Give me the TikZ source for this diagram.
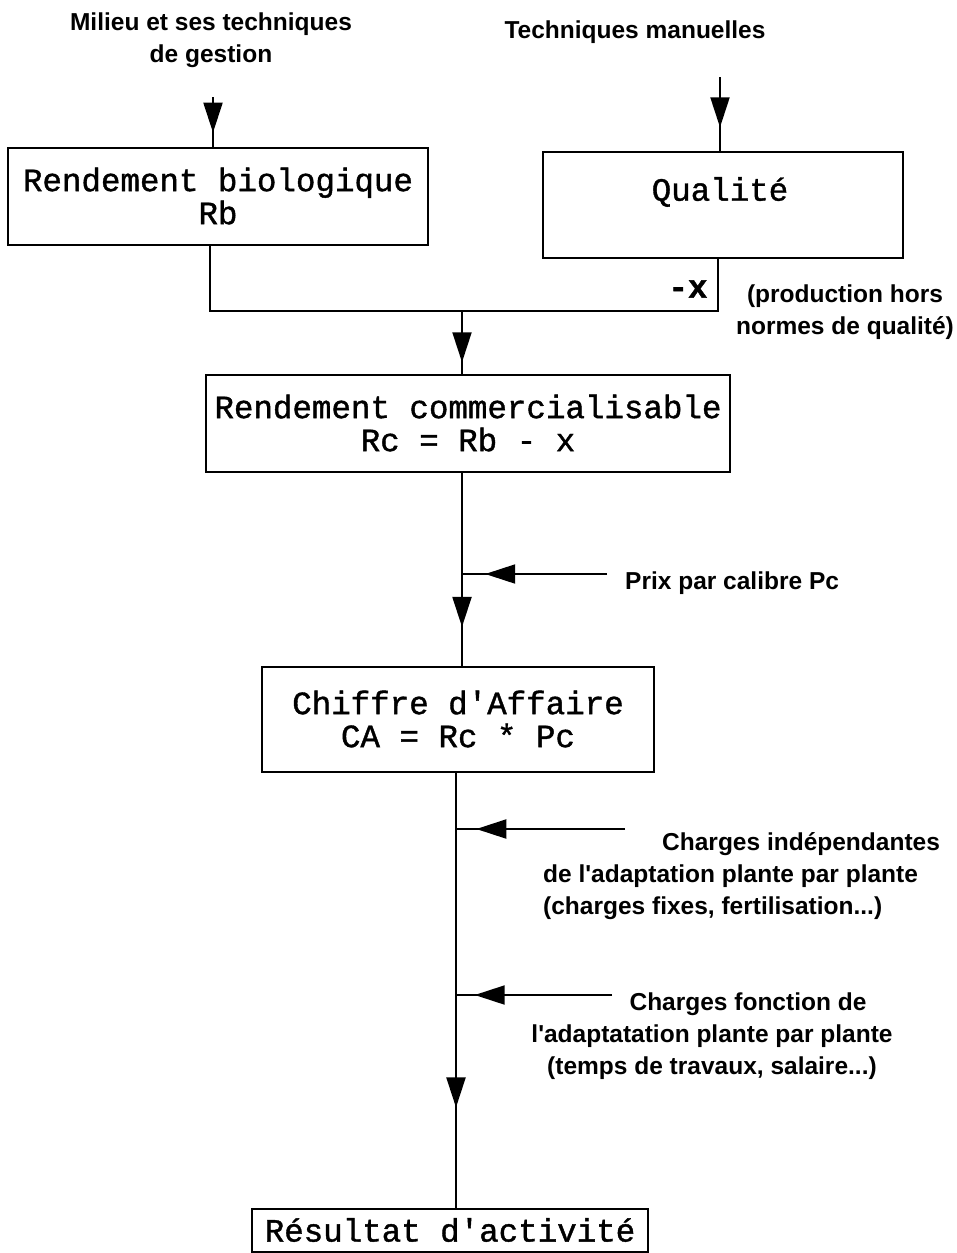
\documentclass[tikz,border=0pt]{standalone}
\usepackage{fontspec}
\setmonofont[FakeBold=1.2]{Liberation Mono}
\newfontfamily\lblfont{Liberation Sans}
\usetikzlibrary{arrows.meta,decorations.markings}

\begin{document}
\begin{tikzpicture}[x=1pt,y=-1pt,
        box/.style={draw, line width=2pt, align=center, inner sep=0pt,
                    font=\ttfamily\fontsize{32.5}{33}\selectfont},
        boxtext/.style={font=\ttfamily\fontsize{32.5}{33}\selectfont},
        lbl/.style={inner sep=0pt, font=\lblfont\bfseries\fontsize{24.5}{32}\selectfont},
        flow/.style={line width=2pt},
        midtip/.style={postaction={decorate}, decoration={markings,
            mark=at position #1 with {\arrow{Triangle[length=30pt,width=19pt]}}}}
      ]
      \useasboundingbox (0,0) rectangle (957,1253);

      % boxes
      \node[box, minimum width=420pt, minimum height=97pt] (rb) at (218,196) {Rendement biologique\\Rb};
      \node[box, minimum width=360pt, minimum height=106pt] (qual) at (723,205) {};
      \node[boxtext] (qualtxt) at (720,192) {Qualité};
      \node[box, minimum width=524pt, minimum height=97pt] (rc) at (468,423) {Rendement commercialisable\\Rc = Rb - x};
      \node[box, minimum width=392pt, minimum height=105pt] (ca) at (458,719) {Chiffre d'Affaire\\CA = Rc * Pc};
      \node[box, minimum width=396pt, minimum height=43pt] (res) at (450,1230) {Résultat d'activité};

      % inputs on top
      \coordinate (milieu) at (213,97);
      \coordinate (manuel) at (720,77);
      \draw[flow, midtip=0.72] (milieu) -- (milieu |- rb.north);
      \draw[flow, midtip=0.68] (manuel) -- (manuel |- qual.north);
      \node[lbl, align=center] (milieulbl) at (211,40) {Milieu et ses techniques\\de gestion};
      \node[lbl] (manuellbl) at (635,32) {Techniques manuelles};

      % Rb and qualite joined
      \coordinate (join) at (462,311);
      \draw[flow] ([xshift=-8pt]rb.south) |- (join) -| ([xshift=-5pt]qual.south);
      \node[boxtext, font=\ttfamily\bfseries\fontsize{32.5}{33}\selectfont] (moinsx) at (688,289) {-x};
      \node[lbl, align=center] (horsnorme) at (845,312) {(production hors\\normes de qualité)};
      \draw[flow, midtip=0.82] (join) -- (join |- rc.north);

      % prix
      \draw[flow, midtip=0.8] (rc.south -| join) -- (join |- ca.north);
      \coordinate (prix) at (607,574);
      \draw[flow, midtip=0.84] (prix) -- (prix -| join);
      \node[lbl, anchor=west] (prixlbl) at (625,583) {Prix par calibre Pc};

      % charges
      \coordinate (main) at (456,0);
      \draw[flow, midtip=0.77] (ca.south -| main) -- (main |- res.north);
      \coordinate (chfix) at (625,829);
      \coordinate (chvar) at (612,995);
      \draw[flow, midtip=0.88] (chfix) -- (chfix -| main);
      \draw[flow, midtip=0.88] (chvar) -- (chvar -| main);
      \node[lbl, align=left, anchor=west] (chfixlbl) at (543,876)
        {\hspace*{119pt}Charges indépendantes\\de l'adaptation plante par plante\\(charges fixes, fertilisation...)};
      \node[lbl, align=center] (chvarlbl) at (712,1036)
        {\hspace*{72pt}Charges fonction de\\l'adaptatation plante par plante\\(temps de travaux, salaire...)};
    \end{tikzpicture}
\end{document}
